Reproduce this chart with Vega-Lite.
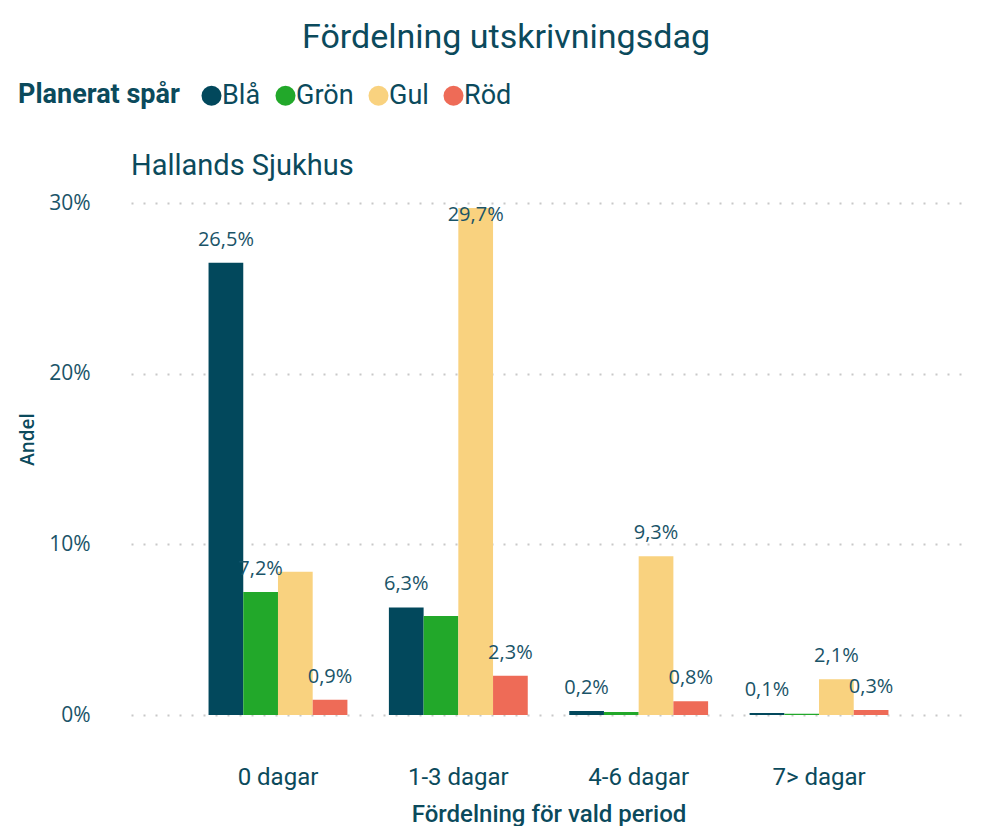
{
  "$schema": "https://vega.github.io/schema/vega-lite/v6.json",
  "padding": {"left": 18, "top": 21, "right": 0, "bottom": 0},
  "background": "white",
  "title": {
    "text": "Fördelning utskrivningsdag",
    "fontSize": 34,
    "font": "Roboto",
    "fontWeight": 400,
    "color": "#0B4A5C",
    "anchor": "middle",
    "frame": "bounds",
    "dx": 14,
    "offset": 27
  },
  "data": {
    "values": [
      {"sjukhus": "Hallands Sjukhus", "kat": "0 dagar", "spar": "Blå", "andel": 0.265},
      {"sjukhus": "Hallands Sjukhus", "kat": "0 dagar", "spar": "Grön", "andel": 0.072},
      {"sjukhus": "Hallands Sjukhus", "kat": "0 dagar", "spar": "Gul", "andel": 0.084},
      {"sjukhus": "Hallands Sjukhus", "kat": "0 dagar", "spar": "Röd", "andel": 0.009},
      {"sjukhus": "Hallands Sjukhus", "kat": "1-3 dagar", "spar": "Blå", "andel": 0.063},
      {"sjukhus": "Hallands Sjukhus", "kat": "1-3 dagar", "spar": "Grön", "andel": 0.058},
      {"sjukhus": "Hallands Sjukhus", "kat": "1-3 dagar", "spar": "Gul", "andel": 0.297},
      {"sjukhus": "Hallands Sjukhus", "kat": "1-3 dagar", "spar": "Röd", "andel": 0.023},
      {"sjukhus": "Hallands Sjukhus", "kat": "4-6 dagar", "spar": "Blå", "andel": 0.0024},
      {"sjukhus": "Hallands Sjukhus", "kat": "4-6 dagar", "spar": "Grön", "andel": 0.0018},
      {"sjukhus": "Hallands Sjukhus", "kat": "4-6 dagar", "spar": "Gul", "andel": 0.093},
      {"sjukhus": "Hallands Sjukhus", "kat": "4-6 dagar", "spar": "Röd", "andel": 0.008},
      {"sjukhus": "Hallands Sjukhus", "kat": "7> dagar", "spar": "Blå", "andel": 0.0012},
      {"sjukhus": "Hallands Sjukhus", "kat": "7> dagar", "spar": "Grön", "andel": 0.0008},
      {"sjukhus": "Hallands Sjukhus", "kat": "7> dagar", "spar": "Gul", "andel": 0.021},
      {"sjukhus": "Hallands Sjukhus", "kat": "7> dagar", "spar": "Röd", "andel": 0.003}
    ]
  },
  "facet": {
    "column": {
      "field": "sjukhus",
      "type": "nominal",
      "header": {
        "title": null,
        "labelAnchor": "start",
        "labelExpr": "'\u2002' + datum.label",
        "labelFontSize": 29,
        "labelFont": "Roboto",
        "labelColor": "#0B4A5C",
        "labelPadding": 22
      }
    }
  },
  "spec": {
    "width": 835,
    "height": 512,
    "encoding": {
      "x": {
        "field": "kat",
        "type": "nominal",
        "sort": ["0 dagar", "1-3 dagar", "4-6 dagar", "7> dagar"],
        "scale": {"paddingInner": 0.23, "paddingOuter": 0.43},
        "axis": {
          "title": "Fördelning för vald period",
          "labelAngle": 0,
          "labelFontSize": 24,
          "labelFont": "Roboto",
          "labelColor": "#0B4A5C",
          "labelPadding": 50,
          "titleFontSize": 24,
          "titleFont": "Roboto",
          "titleFontWeight": 500,
          "titleColor": "#0B4A5C",
          "titlePadding": 13,
          "domain": false,
          "ticks": false
        }
      },
      "xOffset": {
        "field": "spar",
        "type": "nominal",
        "sort": ["Blå", "Grön", "Gul", "Röd"],
        "scale": {"paddingInner": 0, "paddingOuter": 0}
      },
      "y": {
        "field": "andel",
        "type": "quantitative",
        "scale": {"domain": [0, 0.3], "nice": false},
        "axis": {
          "title": "Andel",
          "values": [0, 0.1, 0.2, 0.3],
          "format": ".0%",
          "labelFontSize": 21,
          "labelFont": "Open Sans",
          "labelColor": "#1A5468",
          "labelPadding": 41,
          "titleFontSize": 19,
          "titleFont": "Open Sans",
          "titleFontWeight": 600,
          "titleColor": "#0B4A5C",
          "titlePadding": 11,
          "titleY": 236,
          "domain": false,
          "ticks": false,
          "grid": true,
          "gridColor": "#C8C8C8",
          "gridDash": [2, 10],
          "gridWidth": 2
        }
      }
    },
    "layer": [
      {
        "mark": {"type": "bar"},
        "encoding": {
          "color": {
            "field": "spar",
            "type": "nominal",
            "sort": ["Blå", "Grön", "Gul", "Röd"],
            "scale": {
              "domain": ["Blå", "Grön", "Gul", "Röd"],
              "range": ["#02485C", "#22A82A", "#F9D27F", "#EE6B57"]
            },
            "legend": {
              "title": "Planerat spår",
              "orient": "none",
              "legendX": -113,
              "legendY": -121,
              "direction": "horizontal",
              "titleOrient": "left",
              "titleFontSize": 27,
              "titleFont": "Roboto",
              "titleFontWeight": 700,
              "titleColor": "#0B4A5C",
              "titlePadding": 18,
              "labelFontSize": 27,
              "labelFont": "Roboto",
              "labelColor": "#0B4A5C",
              "labelOffset": -3,
              "symbolType": "circle",
              "symbolSize": 400,
              "symbolStrokeWidth": 0,
              "symbolOpacity": 1,
              "columnPadding": 11
            }
          }
        }
      },
      {
        "transform": [
          {"filter": "datum.andel < 0.29 && !(datum.spar == 'Grön' && datum.kat != '0 dagar') && !(datum.spar == 'Gul' && datum.kat == '0 dagar')"}
        ],
        "mark": {"type": "text", "baseline": "alphabetic", "dy": -17, "fontSize": 20, "font": "Open Sans", "color": "#1A5468"},
        "encoding": {
          "text": {"field": "andel", "type": "quantitative", "format": ".1%"}
        }
      },
      {
        "transform": [{"filter": "datum.andel >= 0.29"}],
        "mark": {"type": "text", "baseline": "alphabetic", "dy": 13, "fontSize": 20, "font": "Open Sans", "color": "#1A5468"},
        "encoding": {
          "text": {"field": "andel", "type": "quantitative", "format": ".1%"}
        }
      }
    ]
  },
  "config": {
    "view": {"stroke": null},
    "locale": {
      "number": {"decimal": ",", "thousands": " ", "grouping": [3], "currency": ["", " kr"]}
    }
  }
}
